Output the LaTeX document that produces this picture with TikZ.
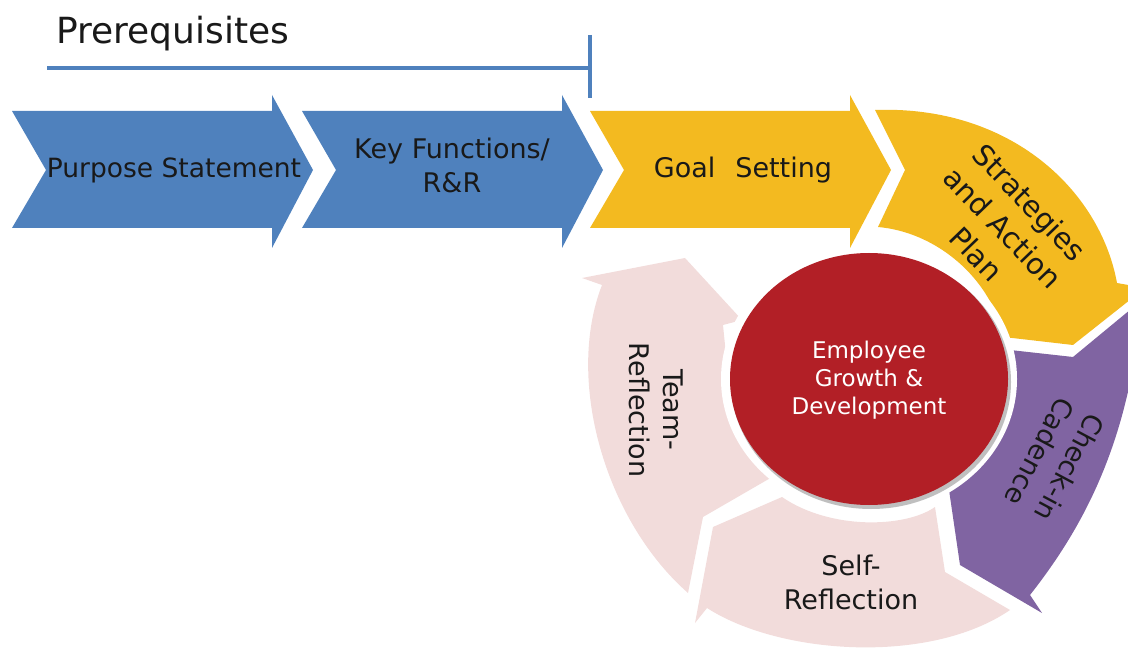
\documentclass[tikz,border=0pt]{standalone}
\usepackage{fontspec}
\setmainfont{DejaVu Sans}
\usetikzlibrary{positioning}
\definecolor{blue}{RGB}{79,129,189}
\definecolor{gold}{RGB}{243,186,32}
\definecolor{purple}{RGB}{128,100,162}
\definecolor{pink}{RGB}{242,220,219}
\definecolor{red}{RGB}{178,31,38}
\tikzstyle{rule} = [line width=4pt, blue]
\tikzset{
    lbl/.style={
        font=\fontsize{27}{34}\selectfont,
        align=center, text=black!90, inner sep=0pt
    },
    inner/.style={
        font=\fontsize{23}{28}\selectfont,
        align=center, text=white, inner sep=0pt
    },
    title/.style={
        font=\fontsize{36}{42}\selectfont,
        text=black!90, inner sep=0pt
    }
}
\begin{document}
\begin{tikzpicture}[x=1pt,y=-1pt]
    \useasboundingbox (0,0) rectangle (1128,652);
    \clip (0,0) rectangle (1128,652);

    \fill[gold] (875,110) -- (905,170) -- (878,227) .. controls (935,232) and (985,275) .. (1000,325)
        -- (995,336) -- (1073,345) -- (1145,288) -- (1117,283) .. controls (1100,190) and (1010,105) .. (875,110) -- cycle;
    \fill[purple] (1010,350) -- (1073,357) -- (1142,300) .. controls (1130,440) and (1085,525) .. (1030,595)
        -- (1042,613) -- (960,565) -- (948,483) .. controls (960,420) and (985,380) .. (1010,350) -- cycle;
    \fill[pink] (1010,610) -- (945,572) -- (935,507) .. controls (905,528) and (830,530) .. (782,497) -- (713,527)
        -- (695,623) -- (707,608) .. controls (780,655) and (930,665) .. (1010,610) -- cycle;
    \fill[pink] (688,593) -- (703,517) -- (767,480) -- (795,465) .. controls (760,420) and (730,380) .. (725,345)
        -- (723,325) -- (742,320) -- (685,258) -- (582,278) -- (602,285) .. controls (565,380) and (605,520) .. (688,593) -- cycle;

    \fill[white] (869,379) ellipse [x radius=148pt, y radius=135pt];
    \fill[black!25] (871,382) ellipse [x radius=140pt, y radius=127pt];
    \fill[red] (869,379) ellipse [x radius=139pt, y radius=126pt];

    \foreach \x/\c in {12/blue, 302/blue, 590/gold} {
        \fill[\c] (\x,111) -- ++(260,0) -- ++(0,-16) -- ++(41,75) -- ++(-41,78) -- ++(0,-20) -- ++(-260,0) -- ++(34,-58) -- cycle;
    }

    \coordinate (rstart) at (47,68);
    \coordinate (rend) at (590,68);
    \coordinate (ttop) at (590,35);
    \coordinate (tbot) at (590,98);
    \draw[rule] (rstart) -- (rend);
    \draw[rule] (ttop) -- (tbot);

    \node[title, anchor=base west] (prereq) at (56,44) {Prerequisites};
    \node[lbl, font=\fontsize{26.5}{34}\selectfont] (purpose) at (174,170) {Purpose Statement};
    \node[lbl] (keyfn) at (452,165) {Key Functions/\\R\&R};
    \node[lbl] (goal) at (743,170) {Goal\hspace{20pt}Setting};
    \node[lbl, font=\fontsize{29}{37}\selectfont, rotate=-46] (strategy) at (1003,228) {Strategies\\and Action\\Plan};
    \node[lbl, rotate=-118] (checkin) at (1055,460) {Check-in\\Cadence};
    \node[lbl] (self) at (851,582) {Self-\\Reflection};
    \node[lbl, rotate=-90] (team) at (656,410) {Team-\\Reflection};
    \node[inner] (growth) at (869,380) {Employee\\Growth \&\\Development};
\end{tikzpicture}
\end{document}
